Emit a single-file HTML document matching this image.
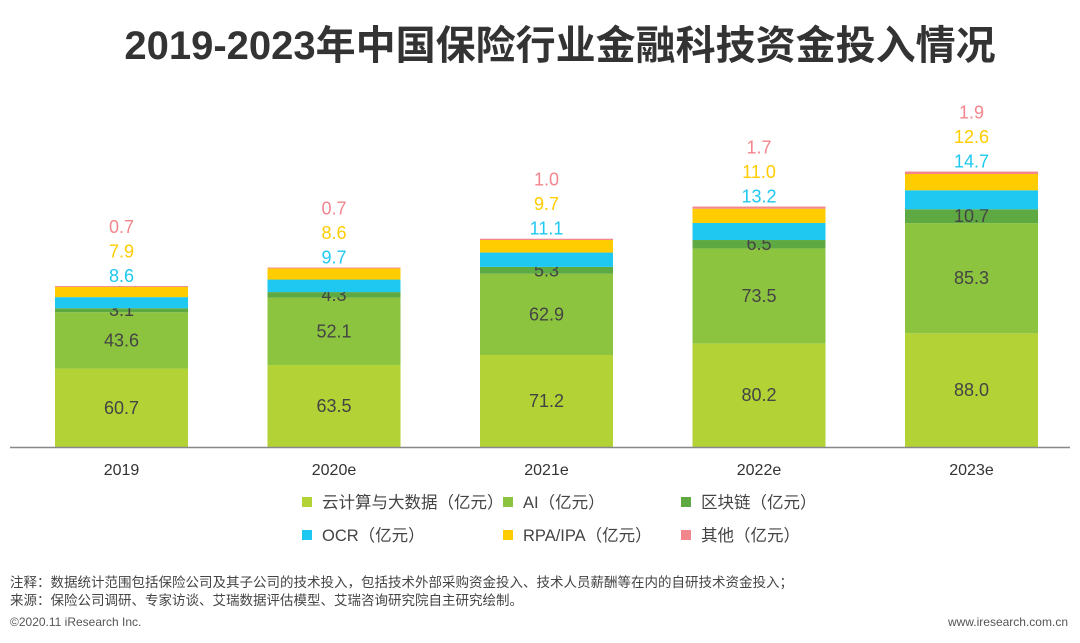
<!DOCTYPE html>
<html><head><meta charset="utf-8">
<style>
body{margin:0;width:1080px;height:643px;background:#fff;overflow:hidden;font-family:"Liberation Sans","Noto Sans CJK SC",sans-serif;position:relative}
.t{position:absolute;white-space:nowrap}
</style></head><body>
<div class="t" style="left:20px;width:1080px;text-align:center;top:13px;font-size:40px;font-weight:bold;color:#333;">2019-2023年中国保险行业金融科技资金投入情况</div>
<svg id="chart" width="1080" height="643" style="position:absolute;left:0;top:0"></svg>
<div class="t" style="left:10px;top:571px;font-size:13.5px;color:#444">注释：数据统计范围包括保险公司及其子公司的技术投入，包括技术外部采购资金投入、技术人员薪酬等在内的自研技术资金投入；</div>
<div class="t" style="left:10px;top:589px;font-size:13.5px;color:#444">来源：保险公司调研、专家访谈、艾瑞数据评估模型、艾瑞咨询研究院自主研究绘制。</div>
<div class="t" style="left:10px;top:615px;font-size:12px;color:#555">©2020.11 iResearch Inc.</div>
<div class="t" style="right:12px;top:615px;font-size:12px;color:#555">www.iresearch.com.cn</div>
<script>
const categories=["2019","2020e","2021e","2022e","2023e"];
const seriesNames=["云计算与大数据（亿元）","AI（亿元）","区块链（亿元）","OCR（亿元）","RPA/IPA（亿元）","其他（亿元）"];
const cloud=[60.7,63.5,71.2,80.2,88.0];
const ai=[43.6,52.1,62.9,73.5,85.3];
const chain=[3.1,4.3,5.3,6.5,10.7];
const ocr=[8.6,9.7,11.1,13.2,14.7];
const rpa=[7.9,8.6,9.7,11.0,12.6];
const other=[0.7,0.7,1.0,1.7,1.9];
const series=[cloud,ai,chain,ocr,rpa,other];
const colors=["#b2d235","#8cc43f","#5fa943","#1fc8f0","#ffcc00","#f2868c"];
const svg=document.getElementById('chart');
const NS="http://www.w3.org/2000/svg";
const base=447, scale=1.292, x0=55, step=212.5, bw=133;
const y=v=>base-v*scale;
const xb=i=>x0+i*step;
function mk(t,a){const e=document.createElementNS(NS,t);for(const k in a)e.setAttribute(k,a[k]);svg.appendChild(e);return e;}
const segNames=["cloud","ai","blockchain","ocr","rpa","other"];
categories.forEach((c,i)=>{
  let cum=0;
  series.forEach((s,k)=>{
    const r=mk('rect',{x:xb(i),y:y(cum+s[i]),width:bw,height:s[i]*scale,fill:colors[k]});
    
    
    if(k<3){
      const t=mk('text',{x:xb(i)+bw/2,y:y(cum+s[i]/2)+6,'text-anchor':'middle','font-size':18,fill:'#444'});
      t.textContent=s[i].toFixed(1);
      
      
    }
    cum+=s[i];
  });
  [3,4,5].forEach((k,j)=>{
    const t=mk('text',{x:xb(i)+bw/2,y:y(cum)-4-j*24.5,'text-anchor':'middle','font-size':18,fill:colors[k]});
    t.textContent=series[k][i].toFixed(1);
    
    
  });
  const l=mk('text',{x:xb(i)+bw/2,y:475,'text-anchor':'middle','font-size':16,fill:'#333'});
  l.textContent=c;
  
  
});
const ax=mk('line',{x1:10,x2:1070,y1:base+0.5,y2:base+0.5,stroke:'#888','stroke-width':1.5});


const lx=[302,503,681], ly=[502,535];
seriesNames.forEach((n,k)=>{
  const X=lx[k%3], Y=ly[Math.floor(k/3)];
  const g=mk('g',{});
  
  
  const r=document.createElementNS(NS,'rect');
  r.setAttribute('x',X);r.setAttribute('y',Y-5);r.setAttribute('width',10);r.setAttribute('height',10);r.setAttribute('fill',colors[k]);
  g.appendChild(r);
  const t=document.createElementNS(NS,'text');
  t.setAttribute('x',X+20);t.setAttribute('y',Y+6);t.setAttribute('font-size',16.5);t.setAttribute('fill','#444');
  t.textContent=n;g.appendChild(t);
  svg.appendChild(g);
});
</script>
</body></html>
